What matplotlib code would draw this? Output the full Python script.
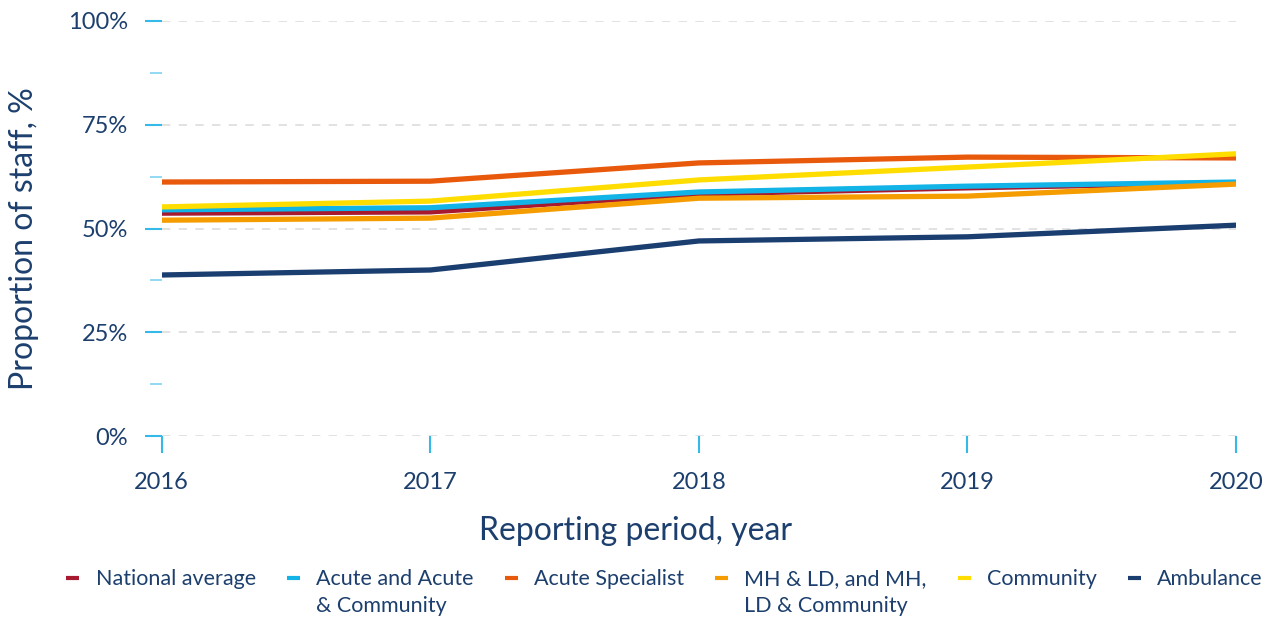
import numpy as np
import matplotlib
matplotlib.use("Agg")
import matplotlib.pyplot as plt
from matplotlib.ticker import MultipleLocator, FuncFormatter

years = [2016, 2017, 2018, 2019, 2020]

national_average = [53.7, 54.0, 58.3, 59.8, 61.0]
acute_community = [54.5, 55.0, 58.8, 60.2, 61.2]
acute_specialist = [61.2, 61.4, 65.8, 67.2, 67.0]
mh_ld_community = [52.0, 52.5, 57.3, 57.8, 60.7]
community = [55.2, 56.6, 61.7, 64.8, 68.0]
ambulance = [38.8, 40.0, 47.0, 48.0, 50.8]

# legend labels: first line goes in the legend, second line (if any) is placed under it
labels = ["National average", "Acute and Acute", "Acute Specialist",
          "MH & LD, and MH,", "Community", "Ambulance"]
second_lines = ["", "& Community", "", "LD & Community", "", ""]
colors = ["#a6192e", "#12b3e6", "#e8590c", "#f59c00", "#ffdd00", "#1a3e6f"]

navy = "#1c3f6e"
tickblue = "#34b9e8"

plt.rcParams['font.family'] = ['Lato', 'DejaVu Sans']

fig = plt.figure(figsize=(12.73, 6.19), dpi=100)
ax = fig.add_axes([0.127, 0.2956, 0.844, 0.6705])

series = [national_average, acute_community, acute_specialist,
          mh_ld_community, community, ambulance]
for vals, lab, c in zip(series, labels, colors):
    ax.plot(years, vals, color=c, lw=3.8, label=lab, solid_capstyle='butt')

ax.set_xlim(2016, 2020)
ax.set_ylim(0, 100)
ax.set_xticks(years)
ax.yaxis.set_major_locator(MultipleLocator(25))
ax.yaxis.set_minor_locator(MultipleLocator(12.5))
ax.yaxis.set_major_formatter(FuncFormatter(lambda v, p: f"{int(v)}%"))

for s in ax.spines.values():
    s.set_visible(False)

ax.grid(axis='y', which='major', color='#dddddd', linestyle=(0, (5, 5)), lw=1.2)
ax.set_axisbelow(True)

ax.tick_params(axis='y', which='major', length=12.5, width=1.5, color=tickblue,
               labelsize=17, labelcolor=navy, pad=12)
ax.tick_params(axis='y', which='minor', length=9, width=1.2, color='#7fd3f0')
ax.tick_params(axis='x', which='major', length=12, width=1.5, color=tickblue,
               labelsize=17, labelcolor=navy, pad=14)

ax.set_ylabel("Proportion of staff, %", fontsize=23, color=navy)
ax.set_xlabel("Reporting period, year", fontsize=23, color=navy)
ax.yaxis.set_label_coords(-0.114, 0.475)
ax.xaxis.set_label_coords(0.441, -0.192)

leg = fig.legend(loc='upper center', bbox_to_anchor=(0.522, 0.112), ncol=6,
                 frameon=False, fontsize=15.5, handlelength=0.6, handletextpad=0.75,
                 columnspacing=1.45, labelcolor=navy)
for h in leg.legend_handles:
    h.set_linewidth(3)

fig.canvas.draw()
inv = fig.transFigure.inverted()
for t, extra in zip(leg.get_texts(), second_lines):
    if not extra:
        continue
    bb = t.get_window_extent()
    x0, y0 = inv.transform((bb.x0, bb.y0))
    fig.text(x0, y0 - 0.012, extra, fontsize=15.5, color=navy, va='top', ha='left')

fig.savefig("out.png", dpi=100)
